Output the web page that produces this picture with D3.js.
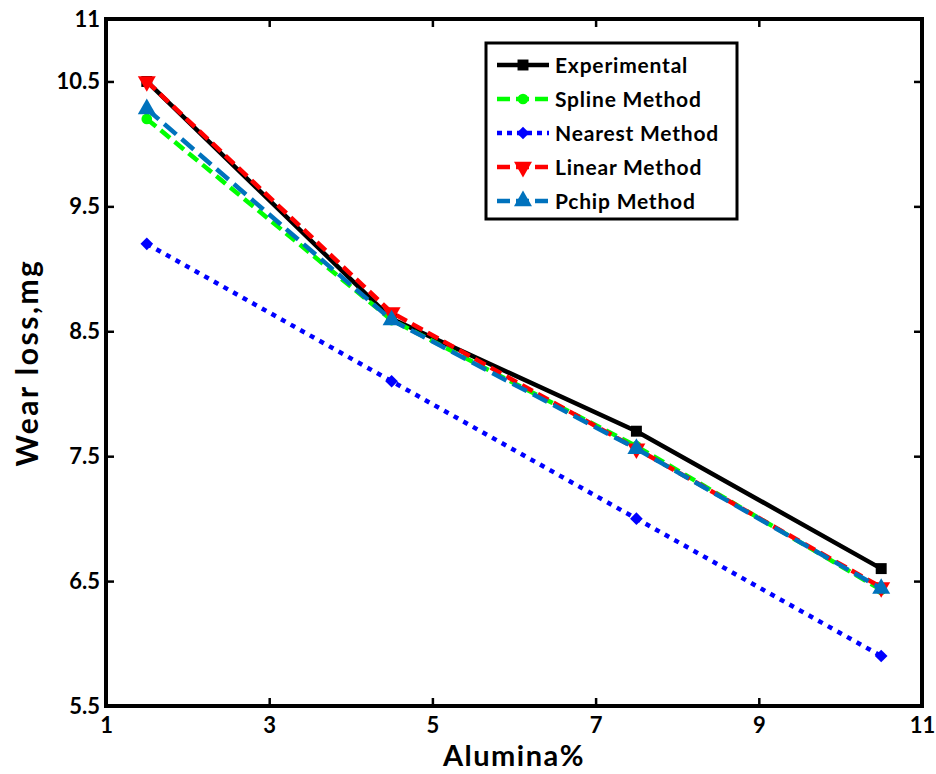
<!DOCTYPE html>
<html><head><meta charset="utf-8">
<script src="https://cdn.jsdelivr.net/npm/d3@7"></script>
<style>body{margin:0;background:#fff}svg{display:block}text{font-family:Lato,"Open Sans",sans-serif;font-weight:bold}</style>
</head><body><svg id="c" width="936" height="774"></svg>
<script>
const alumina = [1.5, 4.5, 7.5, 10.5];
const experimental = [10.5, 8.6, 7.7, 6.6];
const spline = [10.2, 8.59, 7.58, 6.43];
const nearest = [9.2, 8.1, 7.0, 5.9];
const linear = [10.5, 8.65, 7.56, 6.45];
const pchip = [10.28, 8.59, 7.56, 6.44];
const xTicks = [1, 3, 5, 7, 9, 11];
const yTicks = [5.5, 6.5, 7.5, 8.5, 9.5, 10.5, 11];
const seriesNames = ["Experimental", "Spline Method", "Nearest Method", "Linear Method", "Pchip Method"];

const series = [
  {name: seriesNames[0], vals: experimental, color: "#000000", dash: null, marker: "square"},
  {name: seriesNames[1], vals: spline, color: "#00ff00", dash: "12,6", marker: "circle"},
  {name: seriesNames[2], vals: nearest, color: "#0000ff", dash: "5,6", marker: "diamond"},
  {name: seriesNames[3], vals: linear, color: "#ff0000", dash: "12,6", marker: "tdown"},
  {name: seriesNames[4], vals: pchip, color: "#0072bd", dash: "16,7", marker: "tup"}
];

const svg = d3.select("#c");
const L = 106, R = 922, T = 19, B = 706;
const x = d3.scaleLinear().domain([1, 11]).range([L, R]);
const y = d3.scaleLinear().domain([5.5, 11]).range([B, T]);

function markerPath(type, s) {
  const sym = {square: d3.symbolSquare, circle: d3.symbolCircle, diamond: d3.symbolSquare, tup: d3.symbolTriangle, tdown: d3.symbolTriangle}[type];
  return d3.symbol().type(sym).size(s)();
}
const msize = {square: 120, circle: 90, diamond: 80, tup: 140, tdown: 140};
const mrot = {square: 0, circle: 0, diamond: 45, tup: 0, tdown: 180};

const line = d3.line().x((d, i) => x(alumina[i])).y(d => y(d));
const g = svg.append("g");
series.forEach(s => {
  g.append("path").attr("d", line(s.vals)).attr("fill", "none")
    .attr("stroke", s.color).attr("stroke-width", 4.5)
    .attr("stroke-dasharray", s.dash);
  s.vals.forEach((v, i) => {
    g.append("path").attr("d", markerPath(s.marker, msize[s.marker]))
      .attr("transform", `translate(${x(alumina[i])},${y(v)}) rotate(${mrot[s.marker]})`)
      .attr("fill", s.color);
  });
});

// axes
const ax = svg.append("g").attr("transform", `translate(0,${B})`)
  .call(d3.axisBottom(x).tickValues(xTicks).tickSize(-8).tickPadding(11).tickFormat(d3.format("d")));
const axT = svg.append("g").attr("transform", `translate(0,${T})`)
  .call(d3.axisTop(x).tickValues(xTicks).tickSize(-8).tickFormat(""));
const ay = svg.append("g").attr("transform", `translate(${L},0)`)
  .call(d3.axisLeft(y).tickValues(yTicks).tickSize(-8).tickPadding(6).tickFormat(d => d === 11 ? "11" : d3.format(".1f")(d)));
const ayR = svg.append("g").attr("transform", `translate(${R},0)`)
  .call(d3.axisRight(y).tickValues(yTicks).tickSize(-8).tickFormat(""));
[ax, axT, ay, ayR].forEach(a => {
  a.select(".domain").remove();
  a.selectAll(".tick line").attr("stroke", "#000").attr("stroke-width", 2.5);
  a.selectAll("text").attr("fill", "#000").style("font-size", "22px").style("font-weight", "bold").style("font-family", "Lato,sans-serif");
});
svg.append("rect").attr("x", L).attr("y", T).attr("width", R - L).attr("height", B - T)
  .attr("fill", "none").attr("stroke", "#000").attr("stroke-width", 4);

// axis titles
svg.append("text").attr("x", (L + R) / 2).attr("y", 766).attr("text-anchor", "middle")
  .style("font-size", "29px").style("letter-spacing", "1.5px").text("Alumina%");
svg.append("text").attr("transform", `translate(38,${(T + B) / 2}) rotate(-90)`).attr("text-anchor", "middle")
  .style("font-size", "30px").style("letter-spacing", "2.5px").text("Wear loss,mg");

// legend
const lg = svg.append("g");
lg.append("rect").attr("x", 486).attr("y", 43).attr("width", 251).attr("height", 176)
  .attr("fill", "#fff").attr("stroke", "#000").attr("stroke-width", 3);
series.forEach((s, i) => {
  const yy = 65 + i * 34;
  lg.append("line").attr("x1", 497).attr("x2", 549).attr("y1", yy).attr("y2", yy)
    .attr("stroke", s.color).attr("stroke-width", 4.5).attr("stroke-dasharray", s.dash ? (s.marker === "diamond" ? "5,5" : "13,6") : null);
  lg.append("path").attr("d", markerPath(s.marker, msize[s.marker]))
    .attr("transform", `translate(523,${yy}) rotate(${mrot[s.marker]})`).attr("fill", s.color);
  lg.append("text").attr("x", 555).attr("y", yy + 8).style("font-size", "21px").style("letter-spacing", "0.8px").text(s.name);
});
</script></body></html>
